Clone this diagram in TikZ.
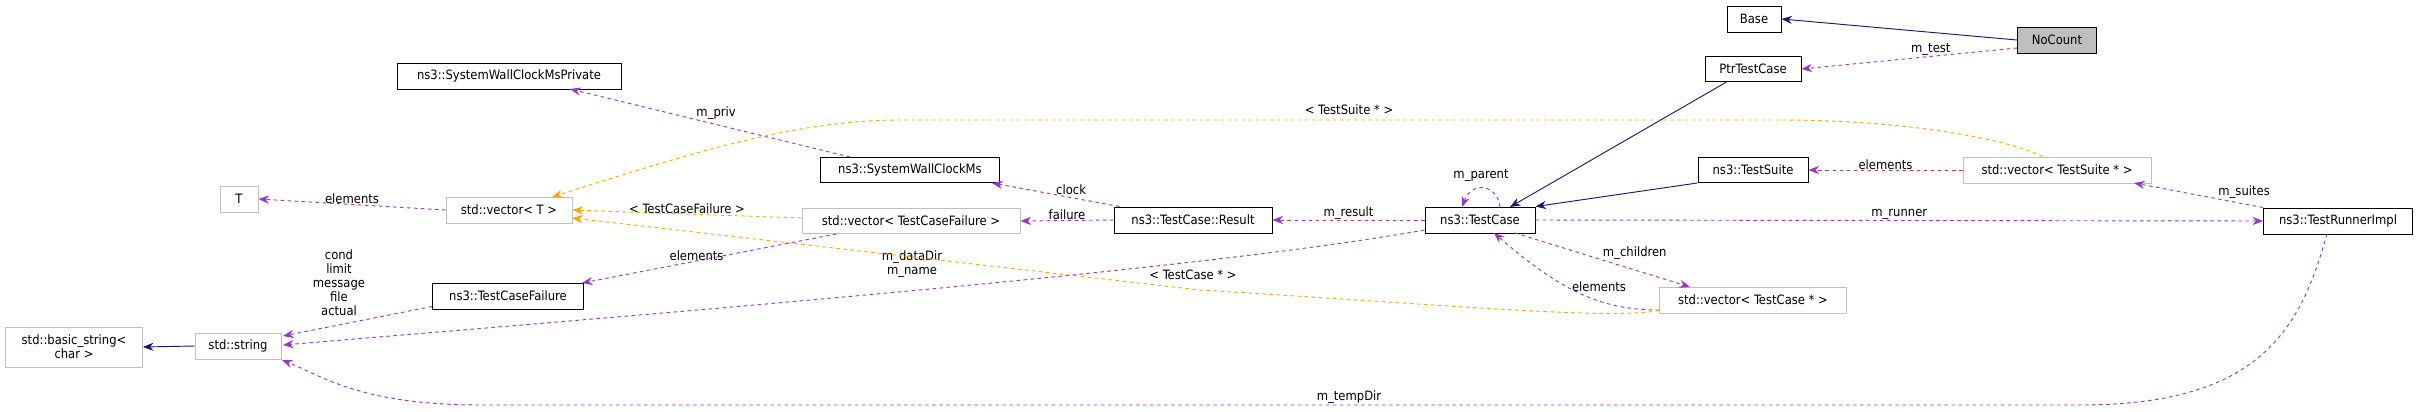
\documentclass[tikz,border=0pt]{standalone}
\usepackage{fontspec}
\setmainfont{DejaVu Sans Condensed}
\usetikzlibrary{arrows.meta}
\definecolor{inhcol}{HTML}{191970}
\definecolor{usecol}{HTML}{9A32CD}
\definecolor{tplcol}{HTML}{FFA500}
\tikzset{
  cls/.style={draw=black, thick, fill=white, inner sep=1pt, font=\fontsize{11}{12}\selectfont},
  ext/.style={draw=black!25, thick, fill=white, inner sep=1pt, font=\fontsize{11}{12}\selectfont},
  inh/.style={draw=inhcol, thick, -{Stealth[length=9pt,width=7pt]}},
  use/.style={draw=usecol, thick, dashed, -{Stealth[length=9pt,width=7pt]}},
  tpl/.style={draw=tplcol, thick, dashed, -{Stealth[length=9pt,width=7pt]}},
  lbl/.style={font=\fontsize{11}{12}\selectfont, inner sep=0pt, align=center}
}
\begin{document}
\begin{tikzpicture}[x=0.03cm,y=-0.03cm]
\useasboundingbox (0,0) rectangle (2419,411);

% classes
\node[cls, minimum width=1.62cm, minimum height=0.78cm] (base) at (1754,19) {Base};
\node[cls, fill=black!25, minimum width=2.37cm, minimum height=0.78cm] (nocount) at (2057,40) {NoCount};
\node[cls, minimum width=2.88cm, minimum height=0.75cm] (ptr) at (1753,69) {PtrTestCase};
\node[cls, minimum width=6.72cm, minimum height=0.78cm] (swcmp) at (509,76) {ns3::SystemWallClockMsPrivate};
\node[cls, minimum width=5.37cm, minimum height=0.75cm] (swcm) at (910,170) {ns3::SystemWallClockMs};
\node[cls, minimum width=3.3cm, minimum height=0.75cm] (suite) at (1753,170) {ns3::TestSuite};
\node[ext, minimum width=5.64cm, minimum height=0.78cm] (vsuite) at (2057,170) {std::vector< TestSuite * >};
\node[ext, minimum width=1.14cm, minimum height=0.78cm] (t) at (239,199) {T};
\node[ext, minimum width=3.78cm, minimum height=0.78cm] (vt) at (509,210) {std::vector< T >};
\node[ext, minimum width=6.54cm, minimum height=0.75cm] (vfail) at (911,221) {std::vector< TestCaseFailure >};
\node[cls, minimum width=4.74cm, minimum height=0.78cm] (result) at (1193,220) {ns3::TestCase::Result};
\node[cls, minimum width=3.3cm, minimum height=0.78cm] (tcase) at (1480,220) {ns3::TestCase};
\node[cls, minimum width=4.47cm, minimum height=0.78cm] (runner) at (2338,221) {ns3::TestRunnerImpl};
\node[cls, minimum width=4.53cm, minimum height=0.78cm] (fail) at (508,296) {ns3::TestCaseFailure};
\node[ext, minimum width=5.61cm, minimum height=0.78cm] (vcase) at (1753,300) {std::vector< TestCase * >};
\node[ext, minimum width=4.11cm, minimum height=1.2cm, align=center] (bstr) at (74,347) {std::basic\_string<\\char >};
\node[ext, minimum width=2.58cm, minimum height=0.78cm] (str) at (238,346) {std::string};

% inheritance
\draw[inh] (nocount.west) -- (base.east);
\draw[inh] (ptr.south west) ++(22,0) -- (1510,207);
\draw[inh] (suite.south west) -- (tcase.north east);
\draw[inh] (str.west) -- (bstr.east);

% usage
\draw[use] (nocount.west) ++(0,8) -- node[lbl, above, pos=0.4] {m\_test} (ptr.east);
\draw[use] (vsuite.west) -- node[lbl, above] {elements} (suite.east);
\draw[use] (runner.north west) -- node[lbl, above right, pos=0.35] {m\_suites} (2134,183);
\draw[use] (tcase.east) -- node[lbl, above] {m\_runner} (runner.west);
\draw[use] (tcase.west) -- node[lbl, above] {m\_result} (result.east);
\draw[use] (1500,207) .. controls (1498,185) and (1472,180) .. (1462,207);
\node[lbl] (lparent) at (1481,175) {m\_parent};
\draw[use] (1515,233) -- node[lbl, above right] {m\_children} (1690,287);
\draw[use] (vcase.west) ++(0,10) .. controls (1600,310) and (1560,290) .. (1494,233);
\node[lbl] (lelem) at (1599,287) {elements};
\draw[use] (result.north west) ++(6,0) -- node[lbl, above right] {clock} (992,183);
\draw[use] (result.west) -- node[lbl, above] {failure} (vfail.east);
\draw[use] (swcm.north west) ++(30,0) -- node[lbl, above right, pos=0.55] {m\_priv} (570,89);
\draw[use] (vt.west) -- node[lbl, above] {elements} (t.east);
\draw[use] (vfail.south west) ++(35,0) -- node[lbl, above, pos=0.55] {elements} (582,283);
\draw[use] (fail.south west) ++(0,-3) -- (283,336);
\node[lbl] (lfail) at (339,283) {cond\\limit\\message\\file\\actual};
\draw[use] (tcase.west) ++(0,10) .. controls (1200,270) and (700,310) .. (283,345);
\node[lbl] (ldata) at (912,264) {m\_dataDir\\m\_name};
\draw[use] (2327,234) .. controls (2300,330) and (2260,405) .. (2080,405)
  -- (480,405) .. controls (360,405) and (320,375) .. (282,360);
\node[lbl] (ltemp) at (1349,397) {m\_tempDir};

% template instances
\draw[tpl] (vsuite.north west) ++(80,0) .. controls (2010,140) and (1910,120) .. (1780,120)
  -- (900,120) .. controls (800,120) and (700,150) .. (552,197);
\node[lbl] (ltsuite) at (1349,110) {< TestSuite * >};
\draw[tpl] (vfail.west) ++(0,-3) -- node[lbl, above] {< TestCaseFailure >} (vt.east);
\draw[tpl] (vcase.south west) ++(0,-3) .. controls (1610,320) and (1450,305) .. (1200,290)
  -- (572,218);
\node[lbl] (ltcase) at (1193,275) {< TestCase * >};
\end{tikzpicture}
\end{document}
